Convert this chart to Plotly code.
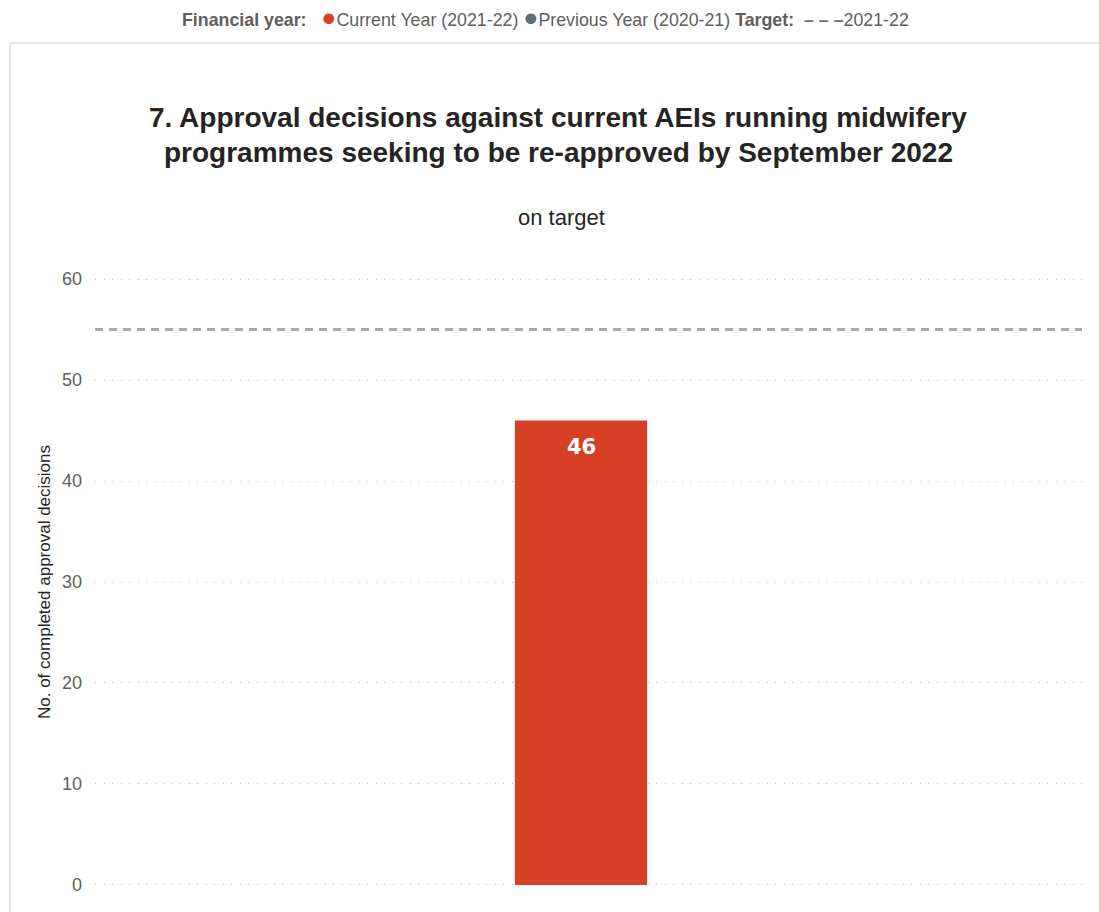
import plotly.graph_objects as go

# Data
categories = ["Current Year (2021-22)"]
values = [46]
target_value = 55
y_ticks = [0, 10, 20, 30, 40, 50, 60]

W, H = 1099, 912
L, R, T, B = 95, 17, 274, 22
PW, PH = W - L - R, H - T - B


def px(x):
    return (x - L) / PW


def py(y):
    return (H - B - y) / PH


BAR_RED = "#d64027"
PREV_GREY = "#5f6b6d"
TEXT_DARK = "#252423"
TEXT_GREY = "#605e5c"
FONT = "Liberation Sans, Arial, sans-serif"

fig = go.Figure()
fig.add_trace(go.Bar(
    x=categories,
    y=values,
    marker=dict(color=BAR_RED, line=dict(width=0)),
    hoverinfo="skip",
    showlegend=False,
))

# Value labels inside the top of each bar
for cat, val in zip(categories, values):
    fig.add_annotation(x=cat, y=val, xref="x", yref="y", text=f"<b>{val}</b>",
                       showarrow=False, xanchor="center", yanchor="middle", yshift=-27,
                       font=dict(family="DejaVu Sans, sans-serif", size=21, color="white"))

# Target line
fig.add_hline(y=target_value, line=dict(color="#a9a9a9", width=3, dash="8px,6px"), layer="above")

fig.update_layout(
    width=W,
    height=H,
    margin=dict(l=L, r=R, t=T, b=B, autoexpand=False),
    paper_bgcolor="white",
    plot_bgcolor="white",
    bargap=0.866,
    font=dict(family=FONT, color=TEXT_GREY),
    xaxis=dict(
        type="category",
        range=[-0.4924, 0.5076],
        showticklabels=False,
        showgrid=False,
        zeroline=False,
        showline=False,
        ticks="",
    ),
    yaxis=dict(
        range=[-0.5, 60.5],
        tickvals=y_ticks,
        ticktext=[str(t) for t in y_ticks],
        tickfont=dict(size=18, color=TEXT_GREY),
        showgrid=True,
        gridcolor="#bdbdbd",
        gridwidth=1,
        griddash="1px,7.5px",
        zeroline=False,
        showline=False,
        ticks="",
        ticklabelstandoff=12,
        title=dict(text="No. of completed approval decisions",
                   font=dict(size=17, color=TEXT_DARK), standoff=7),
    ),
)

# Panel frame
fig.add_shape(type="rect", xref="paper", yref="paper",
              x0=px(10), x1=px(1110), y0=py(960), y1=py(43),
              line=dict(color="#dedede", width=1.5), fillcolor="rgba(0,0,0,0)", layer="below")

# Header legend
legend_text = (
    "<b>Financial year:</b>   "
    f"<span style='color:{BAR_RED};font-size:25px'>●</span>Current Year (2021-22) "
    f"<span style='color:{PREV_GREY};font-size:25px'>●</span>Previous Year (2020-21) "
    "<b>Target:</b>  <span style='color:#6e6e6e'><b>– – –</b></span>2021-22"
)
fig.add_annotation(xref="paper", yref="paper", x=px(545), y=py(17),
                   text=legend_text, showarrow=False, xanchor="center", yanchor="middle",
                   font=dict(size=17.8, color=TEXT_GREY, family=FONT))

# Chart title (two lines)
title_lines = [
    "7. Approval decisions against current AEIs running midwifery",
    "programmes seeking to be re-approved by September 2022",
]
for line, ypix in zip(title_lines, [118, 152]):
    fig.add_annotation(xref="paper", yref="paper", x=px(558), y=py(ypix),
                       text=f"<b>{line}</b>", showarrow=False, xanchor="center", yanchor="middle",
                       font=dict(size=28, color=TEXT_DARK, family=FONT))

# Subtitle
fig.add_annotation(xref="paper", yref="paper", x=px(561), y=py(217),
                   text="on target", showarrow=False, xanchor="center", yanchor="middle",
                   font=dict(size=22, color=TEXT_DARK, family=FONT))

fig.write_html("out.html")
